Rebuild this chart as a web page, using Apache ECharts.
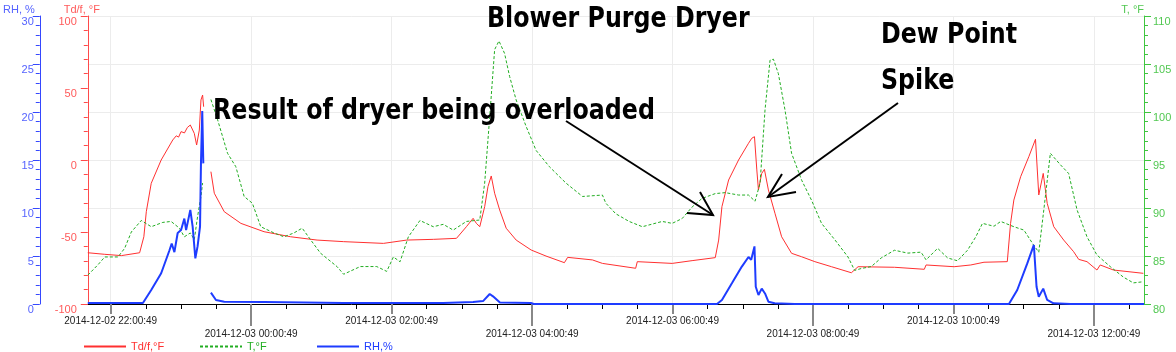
<!DOCTYPE html>
<html>
<head>
<meta charset="utf-8">
<script src="https://cdn.jsdelivr.net/npm/echarts@6/dist/echarts.min.js"></script>
<style>
  html, body { margin: 0; padding: 0; background: #fff; }
  #chart { width: 1176px; height: 352px; }
</style>
</head>
<body>
<div id="chart"></div>
<script>
// x = minutes since 2014-12-02 22:00:49
const xMin = -19.6;
const xMax = 882.8;

const majorMinutes = [0, 120, 240, 360, 480, 600, 720, 840];
const longTickMinutes = [120, 360, 600, 840];
const minorMinutes = [30, 60, 90, 150, 180, 210, 270, 300, 330, 390, 420, 450, 510, 540, 570,
  630, 660, 690, 750, 780, 810, 870];
const tickLabels = [
  '2014-12-02 22:00:49', '2014-12-03 00:00:49', '2014-12-03 02:00:49', '2014-12-03 04:00:49',
  '2014-12-03 06:00:49', '2014-12-03 08:00:49', '2014-12-03 10:00:49', '2014-12-03 12:00:49'
];

// Td/f, °F  (left red axis)
const tdData = [
  [-19.6, -64.4], [-5.1, -65.5], [9.1, -66.4], [24.7, -64.4], [28.3, -53.3], [30.4, -35.9],
  [34.6, -16.2], [43.1, 0], [53, 13.9], [56, 16.8], [58, 15.9], [60.1, 19.7], [63, 18.8],
  [65.5, 22.6], [68, 24.3], [71.4, 18.5], [73.4, 10.4], [75.7, 20.8], [77.1, 41.7],
  [78.5, 45.1], [79.4, 37], [82, '-'],
  [85.6, -8.1], [88.5, -23.1], [97, -35.9], [111.2, -44], [131, -49.8], [153.7, -53.3],
  [176.3, -55.6], [199, -56.7], [233, -57.9], [252.9, -55.6], [275.6, -55.1], [295.4, -54.4],
  [303.9, -46.3], [309.6, -40.5], [312.4, -44], [315.3, -46.3], [319.5, -32.4], [322.3, -18.5],
  [325.1, -11.1], [328, -23.1], [332.3, -34.7], [337.9, -47.4], [346.4, -55.6], [359.2, -62.5],
  [371.9, -66.7], [387.6, -71.3], [390.4, -67.6], [411.6, -69.4], [420.1, -71.8], [448.5, -75.2],
  [449.9, -70.6], [479.7, -71.8], [496.7, -69.9], [516.5, -67.8], [519.4, -55.6], [522.2, -32.4],
  [527.9, -13.9], [536.4, 0], [544.9, 11.6], [547.7, 15.1], [550, 16.2], [552, -6.9],
  [553.4, -20.8], [556.2, -9.3], [558.5, -6.5], [561.9, -20.8], [567.5, -37], [573.2, -53.3],
  [581.7, -64.8], [590.3, -67.2], [601.6, -70.6], [615.8, -74.1], [632.8, -78.3], [638.5, -74.1],
  [669.6, -74.5], [695.1, -75.9], [696.6, -72.9], [720.6, -74.1], [734.8, -72.9], [746.1, -71],
  [766, -70.6], [768.8, -44], [771.6, -27.8], [777.4, -11.6], [784.4, 2.3], [790.1, 14.4],
  [792.9, -24.3], [796.7, -9.3], [800.1, -30.1], [805.7, -46.3], [814.2, -55.6], [822.7, -63.7],
  [827, -69], [834.1, -70.6], [842.6, -76.4], [845.4, -72.9], [856.7, -76.4], [882.2, -78.7]
];

// T, °F  (right green axis)
const tData = [
  [-19.6, 83.0], [-10.8, 84.1], [-5.1, 84.9], [6.2, 84.9], [11.9, 85.8], [17.6, 87.5],
  [26.1, 88.7], [34.6, 88.05], [44.5, 88.5], [51.6, 88.6], [58.7, 87.9], [62.9, 87.0],
  [68, 87.4], [71.4, 86.7], [74.2, 89.1], [77.1, 91.2], [78.5, 92.6], [82, '-'],
  [85.6, 101.3], [91.3, 99.2], [99.8, 95.7], [106.9, 94.3], [114, 91.2], [121, 90.5],
  [128.2, 88.05], [139.5, 87.4], [148, 87.0], [156.5, 87.4], [163.6, 87.9], [170.7, 86.7],
  [179.2, 85.3], [193.3, 83.9], [199, 83.1], [213.2, 83.9], [227.3, 83.9], [235.8, 83.4],
  [241.5, 84.9], [247.2, 84.4], [254.3, 87.0], [264.2, 88.7], [275.6, 88.05], [284.1, 88.3],
  [292.6, 87.7], [303.9, 88.6], [315.3, 88.75], [319.5, 92.6], [323.8, 99.5], [328, 106.5],
  [331.7, 107.4], [336.5, 106.1], [340.8, 103.7], [346.4, 101.25], [354.9, 98.5], [363.4, 96.0],
  [374.8, 94.3], [388.9, 92.6], [403.1, 91.2], [420.1, 91.35], [423, 90.5], [431.5, 89.4],
  [442.9, 88.6], [454.2, 88.05], [471.2, 88.6], [479.7, 88.4], [488.2, 88.9], [496.7, 90.1],
  [505.2, 91.0], [516.5, 91.5], [525, 91.6], [536.4, 91.35], [544.9, 91.35], [550.5, 90.7],
  [554.8, 92.6], [559, 100.2], [563.3, 105.4], [566.2, 105.5], [570.4, 104], [576.1, 100.2],
  [581.7, 95.7], [590.3, 92.9], [598.8, 90.8], [607.3, 88.4], [618.6, 86.7], [629.9, 84.9],
  [635.6, 83.5], [641.3, 83.7], [649.8, 83.9], [658.3, 84.8], [669.6, 85.6], [681, 85.3],
  [692.3, 85.4], [696.6, 84.6], [706.5, 85.8], [715, 84.8], [723.5, 84.5], [732, 85.6],
  [739.1, 87.0], [744.8, 88.4], [754.6, 88.1], [760.4, 88.6], [771.6, 88.05], [780.2, 87.7],
  [788.7, 86.1], [792.9, 85.4], [797.2, 89.8], [802.8, 95.7], [811.4, 94.5], [818.4, 93.6],
  [825.6, 89.8], [834.1, 87.0], [842.6, 85.1], [853.9, 83.9], [865.2, 82.8], [873.7, 82.2],
  [880.9, 82.3]
];

// RH, %  (outer left blue axis)
const rhData = [
  [-19.6, 0.1], [27.5, 0.1], [34.6, 1.46], [43.1, 3.2], [50.2, 5.6], [52.1, 6.3], [54.4, 5.4],
  [57.2, 7.4], [60.1, 7.7], [62.9, 8.9], [64.4, 7.7], [68, 9.8], [70, 8.05], [72.3, 4.76],
  [74.2, 6], [76.3, 8.05], [77.1, 14.65], [78.2, 20.1], [79.1, 14.65], [82, '-'],
  [85.6, 1.18], [89.9, 0.42], [97, 0.24], [131, 0.2], [199, 0.1], [284, 0.1], [309.6, 0.2],
  [318.1, 0.3], [323.8, 1.04], [326.6, 0.8], [332.5, 0.15], [359, 0.1], [361.5, 0],
  [518, 0], [522.2, 0.42], [530.7, 2.15], [539.2, 3.9], [544.9, 4.9], [547.2, 4.6], [550, 6.0],
  [551.1, 1.8], [553.4, 0.94], [556.2, 1.6], [559, 1.1], [561.9, 0.24], [567.3, 0.07], [584.3, 0],
  [767.4, 0], [774.5, 1.46], [783, 4.2], [788.7, 6.15], [791, 1.8], [792.9, 0.76], [796.7, 1.6],
  [800.1, 0.42], [805.5, 0.07], [820, 0], [882.8, 0]
];

const RED = '#ff3030';
const GREEN = '#22ad22';
const BLUE = '#1e3cff';
const FONT = '"Liberation Sans", Arial, sans-serif';
const NOTE_FONT = '"DejaVu Sans Condensed", "DejaVu Sans", sans-serif';

const chart = echarts.init(document.getElementById('chart'));

function yAxisBase(color, labelColor) {
  return {
    type: 'value',
    axisLine: { show: true, onZero: false, lineStyle: { color: color, width: 1 } },
    axisTick: { show: true, length: 7, lineStyle: { color: color } },
    minorTick: { show: true, splitNumber: 5, length: 4, lineStyle: { color: color } },
    axisLabel: { color: labelColor, fontSize: 11, fontFamily: FONT, verticalAlign: 'top' },
    nameTextStyle: { color: labelColor, fontSize: 11, fontFamily: FONT, verticalAlign: 'middle' },
    nameLocation: 'end',
    nameGap: 6,
    splitLine: { show: false }
  };
}

// 3 x-axes on the same scale: labels + grid, long ticks, short minor ticks
function xAxisBase() {
  return {
    type: 'value',
    min: xMin,
    max: xMax,
    position: 'bottom',
    axisLine: { show: false, onZero: false },
    axisLabel: { show: false },
    splitLine: { show: false }
  };
}

const legendBase = {
  top: 341, padding: 0, itemWidth: 42, itemHeight: 10, itemGap: 0,
  itemStyle: { opacity: 0 },
  textStyle: { fontSize: 11, fontFamily: FONT }
};

const option = {
  animation: false,
  grid: { left: 83, right: 32, top: 16, bottom: 48 },
  xAxis: [
    Object.assign(xAxisBase(), {
      axisLine: { show: true, onZero: false, lineStyle: { color: '#000', width: 1 } },
      axisTick: { show: true, customValues: majorMinutes, length: 10, lineStyle: { color: '#888', width: 2 } },
      axisLabel: {
        show: true,
        customValues: majorMinutes,
        margin: 11,
        color: '#222',
        fontSize: 10,
        lineHeight: 13,
        fontFamily: FONT,
        formatter: function (value) {
          const i = majorMinutes.indexOf(Math.round(value));
          const text = tickLabels[i] || '';
          return i % 2 === 1 ? '\n' + text : text;
        }
      },
      splitLine: { show: true, lineStyle: { color: '#ececec' } }
    }),
    Object.assign(xAxisBase(), {
      axisTick: { show: true, customValues: longTickMinutes, length: 22, lineStyle: { color: '#888', width: 2 } }
    }),
    Object.assign(xAxisBase(), {
      axisTick: { show: true, customValues: minorMinutes, length: 5, lineStyle: { color: '#000', width: 1 } }
    })
  ],
  yAxis: [
    Object.assign(yAxisBase('#ff4a4a', '#ff5a5a'), {
      name: 'Td/f, °F', position: 'left', min: -100, max: 100, interval: 50,
      axisLabel: { color: '#ff5a5a', fontSize: 11, fontFamily: FONT, verticalAlign: 'top', margin: 11 },
      nameTextStyle: { color: '#ff5a5a', fontSize: 11, fontFamily: FONT, align: 'center', verticalAlign: 'middle', padding: [0, 12, 0, 0] }
    }),
    Object.assign(yAxisBase('#3548ff', '#5563ff'), {
      name: 'RH, %', position: 'left', offset: 48, min: 0, max: 30, interval: 5,
      axisLabel: { color: '#5563ff', fontSize: 11, fontFamily: FONT, verticalAlign: 'top', margin: 6 },
      nameTextStyle: { color: '#5563ff', fontSize: 11, fontFamily: FONT, align: 'right', verticalAlign: 'middle', padding: [0, 5, 0, 0] }
    }),
    Object.assign(yAxisBase('#3fc63f', '#52c852'), {
      name: 'T, °F', position: 'right', min: 80, max: 110, interval: 5,
      axisLabel: { color: '#52c852', fontSize: 11, fontFamily: FONT, verticalAlign: 'top', margin: 9 },
      nameTextStyle: { color: '#52c852', fontSize: 11, fontFamily: FONT, align: 'right', verticalAlign: 'middle' },
      splitLine: { show: true, lineStyle: { color: '#ececec' } }
    })
  ],
  legend: [
    Object.assign({ left: 83, data: [{ name: 'Td/f,°F', textStyle: { color: RED } }] }, legendBase),
    Object.assign({ left: 199, data: [{ name: 'T,°F', textStyle: { color: GREEN } }] }, legendBase),
    Object.assign({ left: 316, data: [{ name: 'RH,%', textStyle: { color: BLUE } }] }, legendBase)
  ],
  series: [
    {
      name: 'Td/f,°F', type: 'line', xAxisIndex: 0, yAxisIndex: 0, data: tdData,
      symbol: 'none', lineStyle: { color: RED, width: 1 }, itemStyle: { color: RED }
    },
    {
      name: 'T,°F', type: 'line', xAxisIndex: 0, yAxisIndex: 2, data: tData,
      symbol: 'none', lineStyle: { color: GREEN, width: 1, type: [3, 2] }, itemStyle: { color: GREEN }
    },
    {
      name: 'RH,%', type: 'line', xAxisIndex: 0, yAxisIndex: 1, data: rhData,
      symbol: 'none', lineStyle: { color: BLUE, width: 2 }, itemStyle: { color: BLUE }
    }
  ],
  // annotations drawn on top of the plot
  graphic: [
    noteText('Blower Purge Dryer', 487, 19),
    noteText('Result of dryer being overloaded', 213, 111),
    noteText('Dew Point', 881, 35),
    noteText('Spike', 881, 81),
    arrowLine([[566, 121], [713, 215]]),
    arrowLine([[700, 192], [713, 215], [687, 213]]),
    arrowLine([[898, 103], [768, 197]]),
    arrowLine([[782, 174], [768, 197], [796, 192]])
  ]
};

function noteText(text, x, y) {
  return {
    type: 'text', x: x, y: y, z: 100, scaleX: 0.91,
    style: { text: text, fill: '#000', fontSize: 29, fontWeight: 'bold', fontFamily: NOTE_FONT, verticalAlign: 'middle' }
  };
}

function arrowLine(points) {
  return {
    type: 'polyline', z: 100,
    shape: { points: points },
    style: { stroke: '#000', lineWidth: 2, fill: null }
  };
}

chart.setOption(option);
</script>
</body>
</html>
